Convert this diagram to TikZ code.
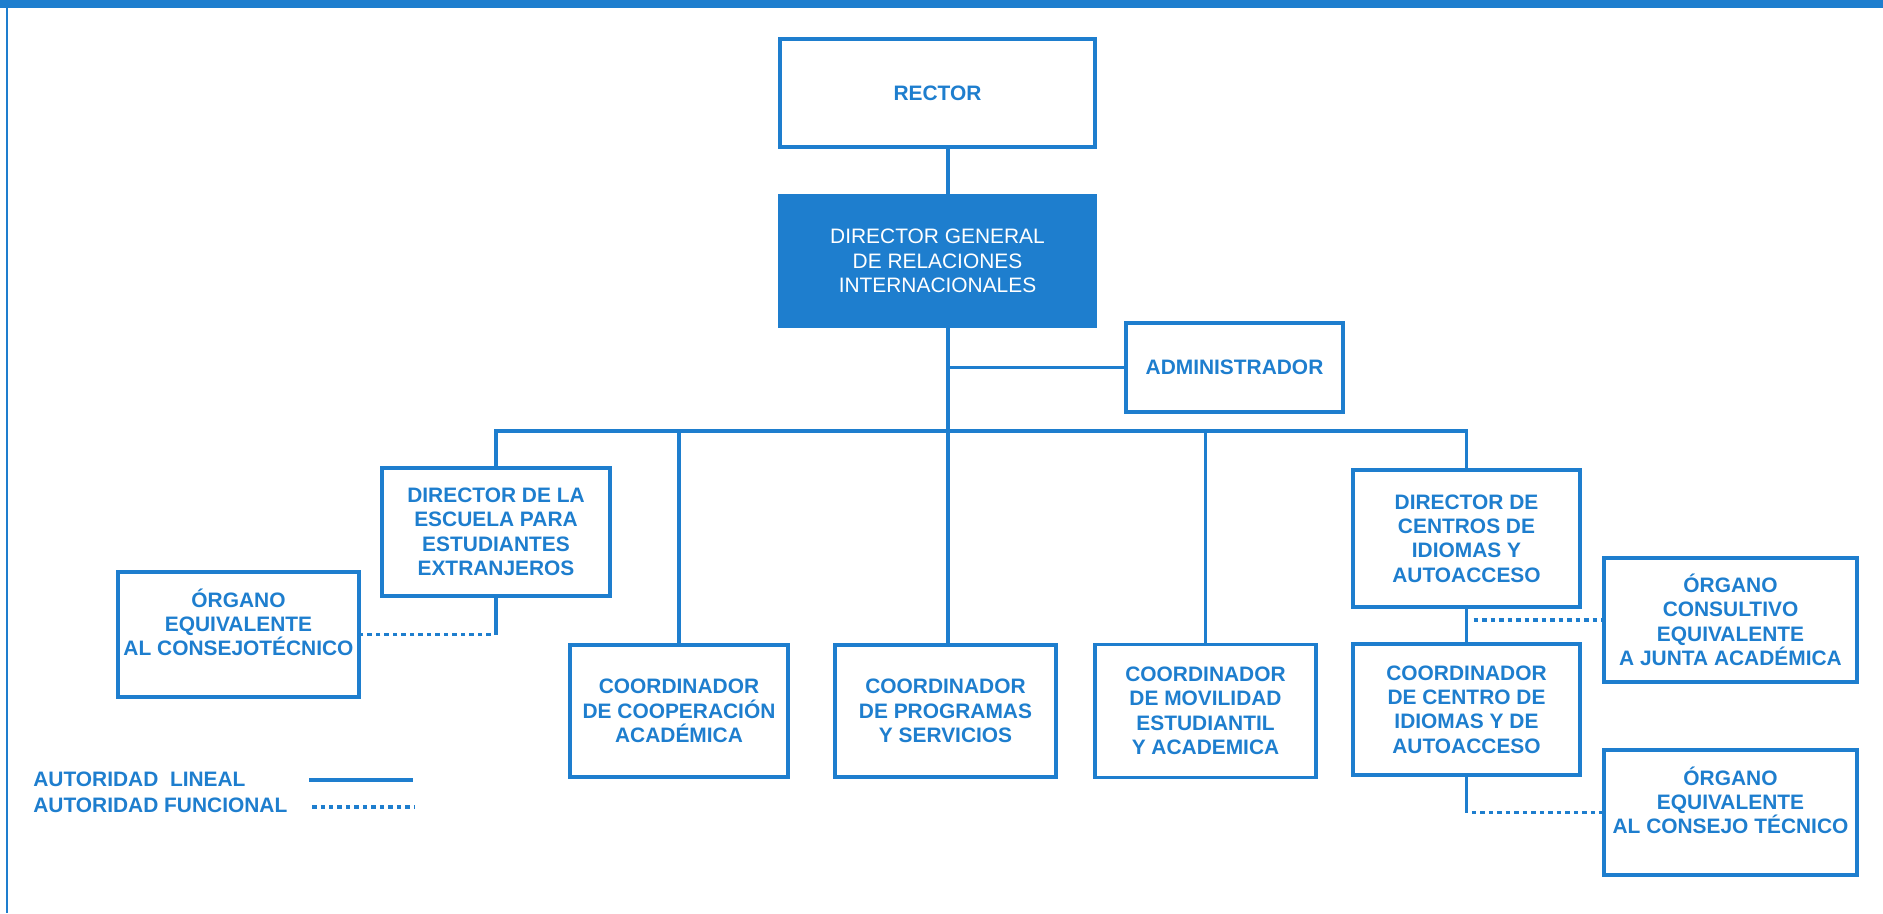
\documentclass[tikz,border=0pt]{standalone}
\usepackage{fontspec}
\setmainfont{Liberation Sans}
\usetikzlibrary{calc}
\definecolor{azul}{RGB}{30,126,206}

\begin{document}
\begin{tikzpicture}[x=0.02cm, y=-0.02cm,
    caja/.style={draw=azul, line width=2.2pt, align=center, text=azul, inner sep=0pt,
        font=\fontsize{11.9}{13.9}\selectfont\bfseries},
    tam/.style 2 args={minimum width=#1*0.02cm, minimum height=#2*0.02cm},
    linea/.style={draw=azul, line width=2pt},
    punteado/.style={draw=azul, line width=2pt, dash pattern=on 0.09cm off 0.08cm}]
    \useasboundingbox (0,0) rectangle (1883,913);
    \fill[azul] (0,0) rectangle (1883,8);
    \draw[azul, line width=1pt] (7,0) -- (7,913);

    \node[caja, tam={315}{108}] (rector) at (937.5,93) {RECTOR};
    \node[caja, tam={315}{130}, fill=azul, text=white, font=\fontsize{11.9}{13.9}\selectfont] (dg) at (937.5,261)
        {DIRECTOR GENERAL\\DE RELACIONES\\INTERNACIONALES};
    \node[caja, tam={217}{89}] (admin) at (1234.5,367.5) {ADMINISTRADOR};
    \node[caja, tam={228}{128}] (escuela) at (496,532) {DIRECTOR DE LA\\ESCUELA PARA\\ESTUDIANTES\\EXTRANJEROS};
    \node[caja, tam={241}{125}] (organoizq) at (238.5,634.5) {ÓRGANO\\EQUIVALENTE\\AL CONSEJOTÉCNICO\\ \mbox{}};
    \node[caja, tam={218}{132}] (cooperacion) at (679,711) {COORDINADOR\\DE COOPERACIÓN\\ACADÉMICA};
    \node[caja, tam={221}{132}] (programas) at (945.5,711) {COORDINADOR\\DE PROGRAMAS\\Y SERVICIOS};
    \node[caja, tam={221}{133}] (movilidad) at (1205.5,711) {COORDINADOR\\DE MOVILIDAD\\ESTUDIANTIL\\Y ACADEMICA};
    \node[caja, tam={227}{137}] (centros) at (1466.5,538.5) {DIRECTOR DE\\CENTROS DE\\IDIOMAS Y\\AUTOACCESO};
    \node[caja, tam={227}{131}] (centro) at (1466.5,709.5) {COORDINADOR\\DE CENTRO DE\\IDIOMAS Y DE\\AUTOACCESO};
    \node[caja, tam={253}{124}] (consultivo) at (1730.5,620) {ÓRGANO\\CONSULTIVO\\EQUIVALENTE\\A JUNTA ACADÉMICA};
    \node[caja, tam={253}{125}] (organoder) at (1730.5,812.5) {ÓRGANO\\EQUIVALENTE\\AL CONSEJO TÉCNICO\\ \mbox{}};

    \coordinate (bus) at (948,431);
    \draw[linea] (rector.south -| bus) -- (dg.north -| bus);
    \draw[linea] (dg.south -| bus) -- (programas.north -| bus);
    \draw[linea] (bus |- admin.west) -- (admin.west);
    \draw[linea] (escuela.north) |- (bus) -| (centros.north);
    \draw[linea] (cooperacion.north) -- (cooperacion.north |- bus);
    \draw[linea] (movilidad.north) -- (movilidad.north |- bus);
    \draw[linea] (centros) -- (centro);

    \coordinate (c1) at (escuela.south |- organoizq.east);
    \draw[linea] (escuela.south) -- (c1);
    \draw[punteado] ([xshift=-3pt]c1) -- (organoizq.east);
    \draw[punteado] ([xshift=4pt]centros.south |- consultivo.west) -- (consultivo.west);
    \coordinate (c2) at (centro.south |- organoder.west);
    \draw[linea] (centro.south) -- (c2);
    \draw[punteado] ([xshift=3pt]c2) -- (organoder.west);

    \node[anchor=west, inner sep=0pt, text=azul, font=\fontsize{11.9}{13.9}\selectfont\bfseries] (lineal) at (33,779) {AUTORIDAD\ \ LINEAL};
    \node[anchor=west, inner sep=0pt, text=azul, font=\fontsize{11.9}{13.9}\selectfont\bfseries] (funcional) at (33,805) {AUTORIDAD FUNCIONAL};
    \draw[linea] (309,780) -- (413,780);
    \draw[punteado] (312,807) -- (414,807);
\end{tikzpicture}
\end{document}
